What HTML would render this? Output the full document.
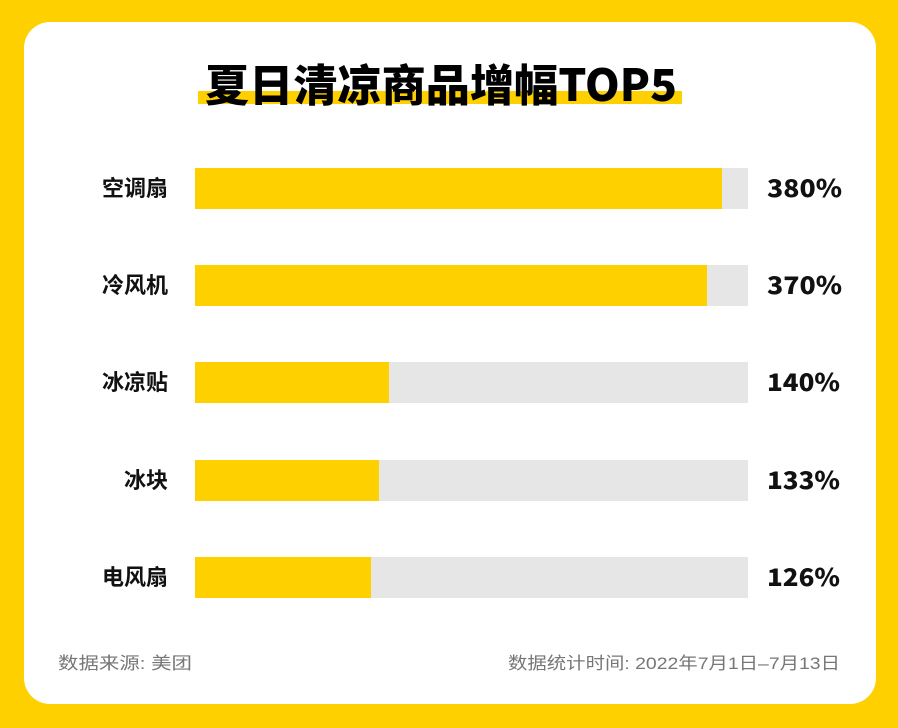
<!DOCTYPE html>
<html><head><meta charset="utf-8"><style>
body{margin:0;width:898px;height:728px;background:#FFD000;overflow:hidden}
</style></head><body>
<svg width="898" height="728" xmlns="http://www.w3.org/2000/svg" style="display:block">
<rect x="0" y="0" width="898" height="728" fill="#FFD000"/>
<rect x="24" y="22" width="852" height="682" rx="26" fill="#fff"/>
<rect x="198" y="91" width="484" height="13" fill="#FFD000"/>
<text x="441" y="101" text-anchor="middle" font-family="'Noto Sans CJK SC',sans-serif" font-weight="900" font-size="44" textLength="472" lengthAdjust="spacingAndGlyphs" fill="#000">夏日清凉商品增幅TOP5</text>
<g font-family="'Liberation Sans','Noto Sans CJK SC',sans-serif">
<g font-size="22" font-weight="700" fill="#111" text-anchor="end" font-family="'Noto Sans CJK SC',sans-serif">
<text x="168" y="196">空调扇</text>
<text x="168" y="293">冷风机</text>
<text x="168" y="390">冰凉贴</text>
<text x="168" y="488">冰块</text>
<text x="168" y="585">电风扇</text>
</g>
<g fill="#E6E6E6">
<rect x="195" y="168" width="553" height="41"/>
<rect x="195" y="265" width="553" height="41"/>
<rect x="195" y="362" width="553" height="41"/>
<rect x="195" y="460" width="553" height="41"/>
<rect x="195" y="557" width="553" height="41"/>
</g>
<g fill="#FFD000">
<rect x="195" y="168" width="527" height="41"/>
<rect x="195" y="265" width="512" height="41"/>
<rect x="195" y="362" width="194" height="41"/>
<rect x="195" y="460" width="184" height="41"/>
<rect x="195" y="557" width="176" height="41"/>
</g>
<g font-size="24" font-weight="900" fill="#111" font-family="'Noto Sans CJK SC',sans-serif">
<text x="767" y="197" textLength="75" lengthAdjust="spacingAndGlyphs">380%</text>
<text x="767" y="294" textLength="75" lengthAdjust="spacingAndGlyphs">370%</text>
<text x="767" y="391" textLength="73" lengthAdjust="spacingAndGlyphs">140%</text>
<text x="767" y="489" textLength="73" lengthAdjust="spacingAndGlyphs">133%</text>
<text x="767" y="586" textLength="73" lengthAdjust="spacingAndGlyphs">126%</text>
</g>
<g font-size="17" fill="#777">
<text x="58" y="669" textLength="134" lengthAdjust="spacingAndGlyphs">数据来源: 美团</text>
<text x="508" y="669" textLength="332" lengthAdjust="spacingAndGlyphs">数据统计时间: 2022年7月1日–7月13日</text>
</g>
</g>
</svg>
</body></html>
